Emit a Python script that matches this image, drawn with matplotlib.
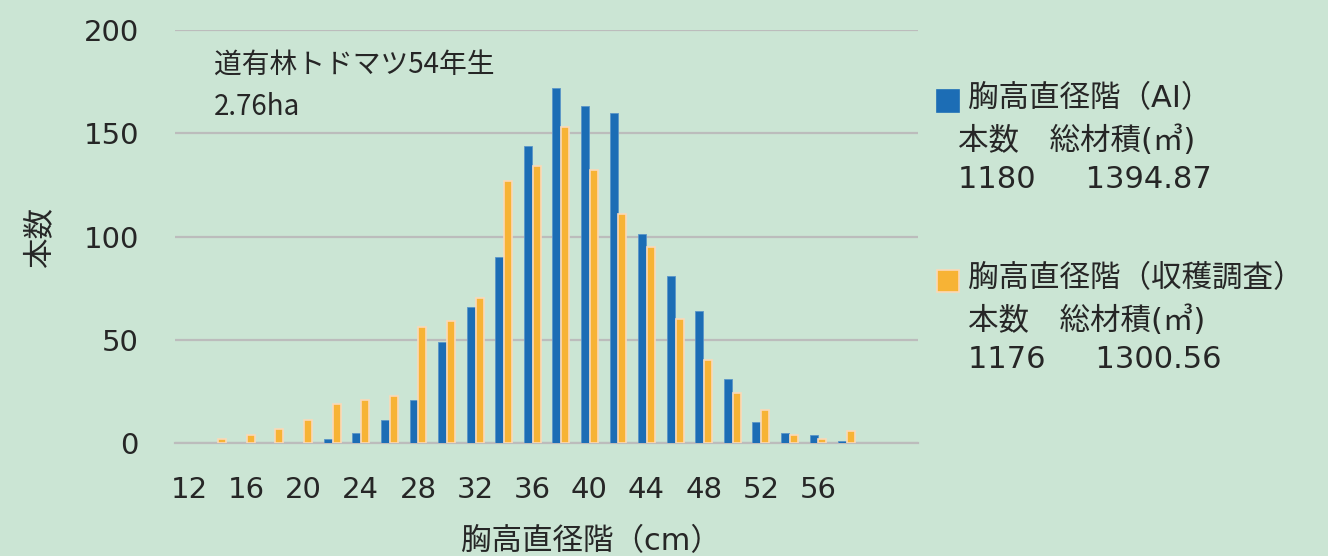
import numpy as np
import matplotlib
matplotlib.use('Agg')
import matplotlib.pyplot as plt

plt.rcParams['font.family'] = ['DejaVu Sans', 'Noto Sans CJK JP']

# 胸高直径階 (cm)
classes = list(range(12, 64, 2))
ai_counts = [0, 0, 0, 0, 0, 2, 5, 11, 21, 49, 66, 90, 144, 172, 163, 160,
             101, 81, 64, 31, 10, 5, 4, 1, 0, 0]
harvest_counts = [0, 2, 4, 7, 11, 19, 21, 23, 56, 59, 70, 127, 134, 153, 132, 111,
                  95, 60, 40, 24, 16, 4, 2, 6, 0, 0]
tick_classes = list(range(12, 60, 4))

bg = '#cbe5d4'
txt = '#262626'
blue = '#1c6db5'
orange = '#f7b335'

fig = plt.figure(figsize=(13.28, 5.56), dpi=100, facecolor=bg)
ax = fig.add_axes([0.1318, 0.2032, 0.5595, 0.7428], facecolor=bg)

x = np.arange(len(classes))
w = 0.28
ai = np.array(ai_counts)
hv = np.array(harvest_counts)
# skip empty classes so no edge line shows on the baseline
ax.bar(x[ai > 0] - 0.155, ai[ai > 0], w, color=blue, edgecolor='#5b95c8',
       linewidth=0.6, zorder=3)
ax.bar(x[hv > 0] + 0.155, hv[hv > 0], w, color=orange, edgecolor='#fbd9b8',
       linewidth=1.2, zorder=3)

ax.set_xlim(-0.5, len(classes) - 0.5)
ax.set_ylim(0, 200)
ax.set_yticks([0, 50, 100, 150, 200])
ax.yaxis.grid(True, color='#bcbcbc', linewidth=1.6, zorder=0)
ax.set_axisbelow(True)
for s in ['top', 'right', 'left']:
    ax.spines[s].set_visible(False)
ax.spines['bottom'].set_color('#bcbcbc')
ax.spines['bottom'].set_linewidth(1.6)

ax.set_xticks([classes.index(c) for c in tick_classes])
ax.set_xticklabels([str(c) for c in tick_classes])
ax.tick_params(axis='both', length=0, labelsize=21, colors=txt)
ax.tick_params(axis='y', pad=26)
ax.tick_params(axis='x', pad=24)

fig.text(0.030, 0.573, '本数', rotation=90, ha='center', va='center', fontsize=22, color=txt)
fig.text(0.445, 0.026, '胸高直径階（cm）', ha='center', va='center', fontsize=22, color=txt)

narrow = ['Liberation Sans Narrow', 'Noto Sans CJK JP']
fig.text(0.161, 0.884, '道有林トドマツ54年生', ha='left', va='center', fontsize=20,
         color=txt, family=narrow)
fig.text(0.161, 0.807, '2.76ha', ha='left', va='center', fontsize=20,
         color=txt, family=narrow)

# legend built by hand
lx = 937 / 1328
sq = 22
for y0, col, ec in [(90, blue, blue), (270, orange, '#fbd9b8')]:
    fig.patches.append(plt.Rectangle((lx, 1 - (y0 + sq) / 556), sq / 1328, sq / 556,
                                     transform=fig.transFigure, facecolor=col,
                                     edgecolor=ec, linewidth=1.2))

fig.text(968 / 1328, 1 - 99 / 556, '胸高直径階（AI）', ha='left', va='center', fontsize=22, color=txt)
fig.text(958 / 1328, 1 - 141 / 556, '本数　総材積(㎥)', ha='left', va='center', fontsize=22, color=txt)
fig.text(958 / 1328, 1 - 179 / 556, '1180　  1394.87', ha='left', va='center', fontsize=22, color=txt)

fig.text(968 / 1328, 1 - 279 / 556, '胸高直径階（収穫調査）', ha='left', va='center', fontsize=22, color=txt)
fig.text(968 / 1328, 1 - 321 / 556, '本数　総材積(㎥)', ha='left', va='center', fontsize=22, color=txt)
fig.text(968 / 1328, 1 - 359 / 556, '1176　  1300.56', ha='left', va='center', fontsize=22, color=txt)

fig.savefig('out.png', dpi=100, facecolor=bg)
